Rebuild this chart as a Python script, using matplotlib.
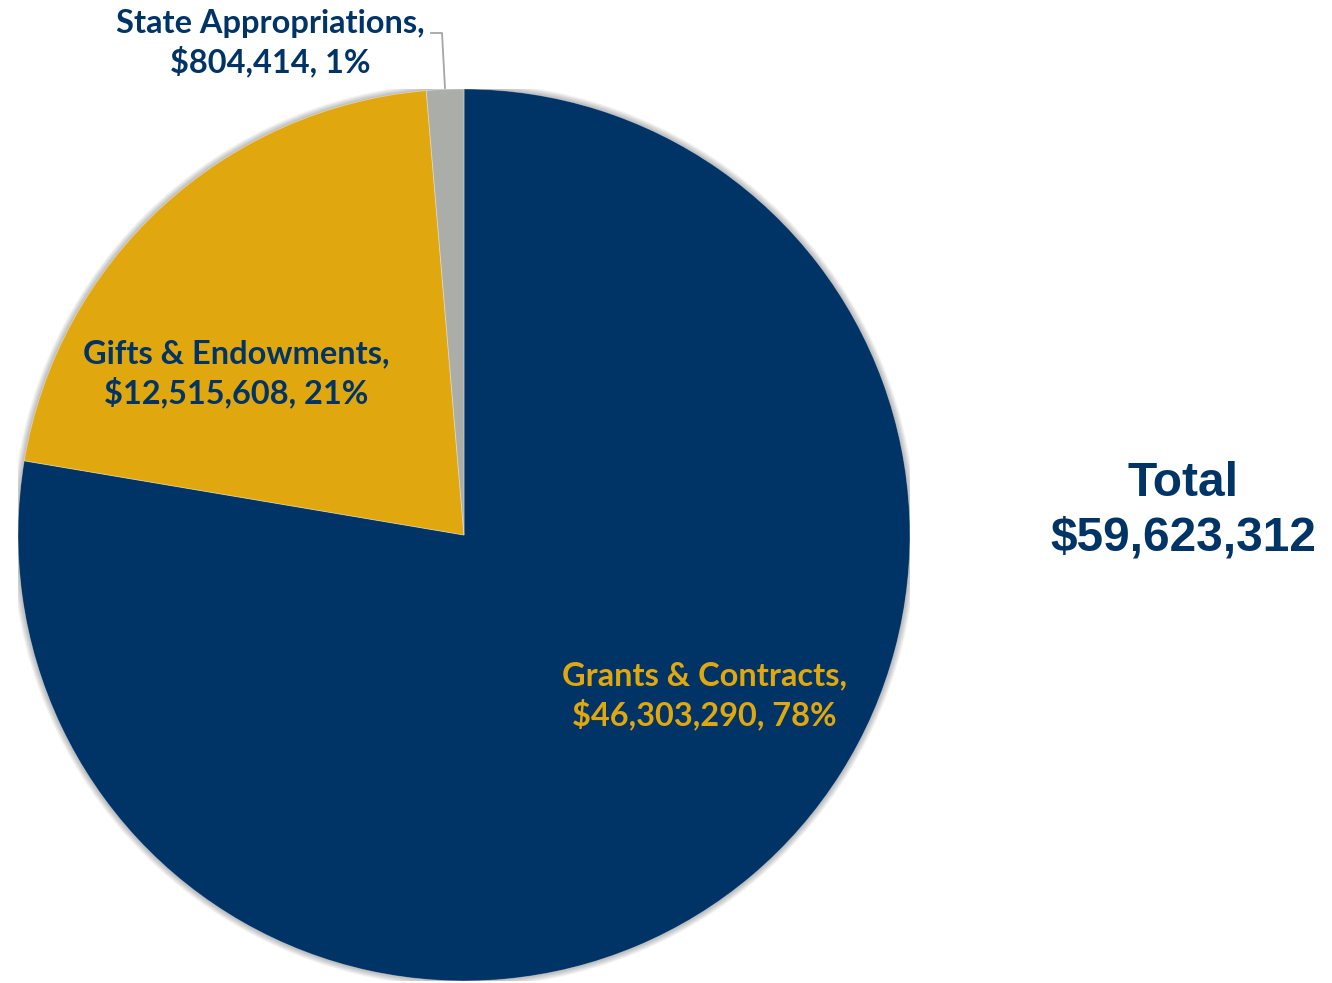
import matplotlib
matplotlib.use("Agg")
import matplotlib.pyplot as plt
from matplotlib.patches import Circle

categories = ["Grants & Contracts", "Gifts & Endowments", "State Appropriations"]
values = [46303290, 12515608, 804414]
colors = ["#003466", "#E0A80E", "#ABADA8"]
label_colors = ["#E0A80E", "#003466", "#003466"]

total = sum(values)

W, H = 1332, 983
fig = plt.figure(figsize=(W / 100, H / 100), dpi=100)
fig.patch.set_facecolor("white")

cx, cy, r = 464, 535, 446
ax = fig.add_axes([(cx - r) / W, (H - cy - r) / H, 2 * r / W, 2 * r / H])
ax.axis("off")

# soft shadow around the rim
for i in range(8):
    ax.add_patch(Circle((0, 0), 1.0 + 0.0018 * (i + 1), color="black",
                        alpha=0.035, lw=0, zorder=0))

wedges, _ = ax.pie(values, colors=colors, startangle=90, counterclock=False,
                   radius=1.0, wedgeprops=dict(linewidth=0.6, edgecolor=(1, 1, 1, 0.4)))
for w in wedges:
    w.set_zorder(2)
ax.set_xlim(-1, 1)
ax.set_ylim(-1, 1)
ax.set_aspect("equal")

lab_font = dict(family="Lato", weight="bold", fontsize=23.4)

def px(x, y):
    return (x / W, 1 - y / H)

label_pos = [(704, 696), (236, 374), (270, 43)]
for cat, v, col, (lx, ly) in zip(categories, values, label_colors, label_pos):
    pct = round(100 * v / total)
    txt = f"{cat},\n${v:,}, {pct}%"
    fig.text(*px(lx, ly), txt, ha="center", va="center", color=col,
             linespacing=1.3, **lab_font)

# leader line for the small slice
fig.add_artist(plt.Line2D([431 / W, 442 / W, 445 / W], [1 - 33 / H, 1 - 33 / H, 1 - 88 / H],
                          color="#A6A6A6", lw=1.3))

fig.text(*px(1183, 511), f"Total\n${total:,}", ha="center", va="center",
         color="#003466", family="Liberation Sans", weight="bold", fontsize=34.5,
         linespacing=1.28)

fig.savefig("out.png", dpi=100, facecolor="white")
